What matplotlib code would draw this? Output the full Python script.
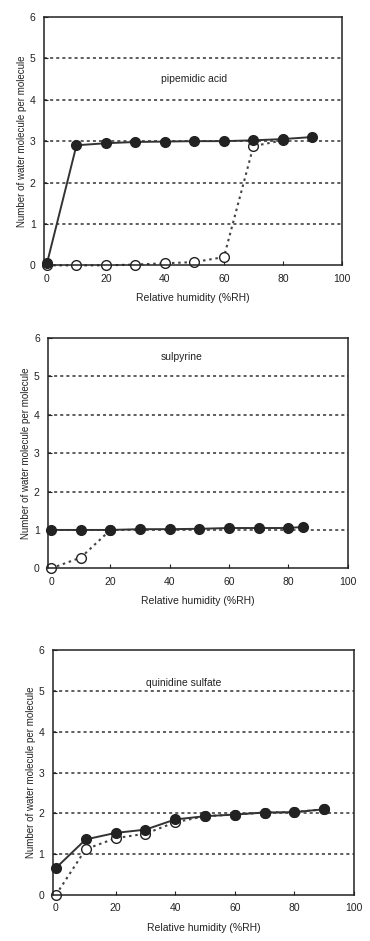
import matplotlib
matplotlib.use("Agg")
import matplotlib.pyplot as plt

plt.rcParams['font.family'] = ['Liberation Sans', 'DejaVu Sans']

# pipemidic acid
rh_a_fill = [0, 10, 20, 30, 40, 50, 60, 70, 80, 90]
n_a_fill = [0.05, 2.9, 2.95, 2.98, 2.99, 3.0, 3.0, 3.02, 3.05, 3.1]
rh_a_open = [0, 10, 20, 30, 40, 50, 60, 70, 80]
n_a_open = [0.0, 0.0, 0.0, 0.02, 0.05, 0.08, 0.2, 2.88, 3.02]

# sulpyrine
rh_b_fill = [0, 10, 20, 30, 40, 50, 60, 70, 80, 85]
n_b_fill = [1.0, 1.0, 1.0, 1.02, 1.02, 1.03, 1.05, 1.05, 1.05, 1.08]
rh_b_open = [0, 10, 20]
n_b_open = [0.0, 0.28, 1.0]

# quinidine sulfate
rh_c_fill = [0, 10, 20, 30, 40, 50, 60, 70, 80, 90]
n_c_fill = [0.66, 1.36, 1.52, 1.6, 1.85, 1.93, 1.97, 2.02, 2.03, 2.1]
rh_c_open = [0, 10, 20, 30, 40, 50, 60, 70, 80, 90]
n_c_open = [0.0, 1.12, 1.39, 1.5, 1.78, 1.93, 1.97, 2.02, 2.03, 2.1]

panels = [
    ("pipemidic acid", rh_a_fill, n_a_fill, rh_a_open, n_a_open,
     [0.119, 0.718, 0.805, 0.264], (50, 4.5)),
    ("sulpyrine", rh_b_fill, n_b_fill, rh_b_open, n_b_open,
     [0.130, 0.396, 0.810, 0.245], (44, 5.5)),
    ("quinidine sulfate", rh_c_fill, n_c_fill, rh_c_open, n_c_open,
     [0.143, 0.049, 0.814, 0.260], (43, 5.2)),
]

fig = plt.figure(figsize=(3.7, 9.41), dpi=100)
ink = '#222222'

for name, xf, yf, xo, yo, pos, tpos in panels:
    ax = fig.add_axes(pos)
    for yv in [1, 2, 3, 4, 5]:
        ax.axhline(yv, color='#333333', lw=1.1, ls=(0, (2, 2)), zorder=1)
    ax.plot(xo, yo, color='#444444', lw=1.5, ls=(0, (1.2, 1.8)), zorder=2,
            marker='o', ms=7, mfc='white', mec=ink, mew=1.0, clip_on=False)
    ax.plot(xf, yf, color='#333333', lw=1.4, zorder=3,
            marker='o', ms=7, mfc=ink, mec=ink, clip_on=False)
    ax.set_xlim(-1, 100)
    ax.set_ylim(0, 6)
    ax.set_xticks([0, 20, 40, 60, 80, 100])
    ax.set_yticks([0, 1, 2, 3, 4, 5, 6])
    ax.tick_params(direction='in', length=3, width=0.8, labelsize=7.5,
                   colors=ink, pad=6)
    for s in ax.spines.values():
        s.set_linewidth(1.1)
        s.set_color(ink)
    ax.set_xlabel("Relative humidity (%RH)", fontsize=7.5, color=ink, labelpad=7)
    ax.set_ylabel("Number of water molecule per molecule", fontsize=7,
                  color=ink, labelpad=2)
    ax.text(tpos[0], tpos[1], name, fontsize=7.5, color=ink,
            ha='center', va='center')

fig.savefig("out.png", dpi=100)
